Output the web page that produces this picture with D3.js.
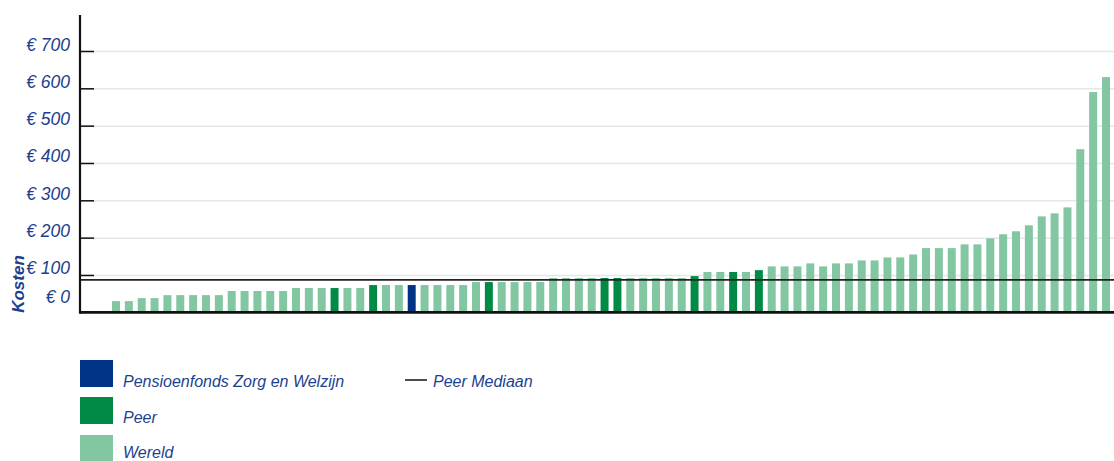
<!DOCTYPE html>
<html>
<head>
<meta charset="utf-8">
<script src="https://cdn.jsdelivr.net/npm/d3@7/dist/d3.min.js"></script>
<style>
  html, body { margin: 0; padding: 0; background: #fff; }
  svg { display: block; font-family: "Liberation Sans", Arial, sans-serif; font-style: italic; }
</style>
</head>
<body>
<svg id="chart" width="1114" height="461"></svg>
<script>
// ---- data ----
const values = [
  30, 30, 38, 38, 46, 46, 46, 46, 46,
  57, 57, 57, 57, 57,
  65, 65, 65, 65, 65, 65,
  73, 73, 73, 73, 73, 73, 73, 73,
  81, 81, 81, 81, 81, 81,
  92, 92, 92, 92, 92, 92, 92, 92, 92, 92, 92,
  97, 108, 108, 108, 108, 113,
  123, 123, 123, 131, 123, 131, 131,
  139, 139, 147, 147, 155,
  172, 172, 172, 182, 182,
  198, 209, 217, 233, 257, 265, 281,
  437, 590, 630
];
// group per bar: W = Wereld, P = Peer, F = Pensioenfonds Zorg en Welzijn
const peerIdx = [17, 20, 29, 38, 39, 45, 48, 50];
const fundIdx = 23;
const groups = values.map((v, i) => i === fundIdx ? "F" : (peerIdx.includes(i) ? "P" : "W"));
const categories = values.map((v, i) => "Fonds " + (i + 1));
const yTicks = [0, 100, 200, 300, 400, 500, 600, 700];
const yTickLabels = ["€ 0", "€ 100", "€ 200", "€ 300", "€ 400", "€ 500", "€ 600", "€ 700"];
const peerMedian = 87;
const legendItems = ["Pensioenfonds Zorg en Welzijn", "Peer", "Wereld"];
const legendKeys = ["F", "P", "W"];
const medianLabel = "Peer Mediaan";
const yTitle = "Kosten";

// ---- styles ----
const colors = { F: "#003383", P: "#008a46", W: "#82c6a2" };
const textColor = "#1d3f8f";

const svg = d3.select("#chart");
const axisX = 80, baseY = 312.3, topY = 15, rightX = 1114;

const y = d3.scaleLinear().domain([0, 700]).range([baseY, 51]);
const x = d3.scaleBand().domain(categories).range([112, 1110]).paddingInner(0.38).paddingOuter(0);

// gridlines
const grid = svg.append("g").attr("transform", `translate(${axisX},0)`)
  .call(d3.axisLeft(y).tickValues(yTicks.slice(1)).tickSize(-(rightX - axisX)).tickFormat(""));
grid.select(".domain").remove();
grid.selectAll("line").attr("stroke", "#e6e6e6").attr("stroke-width", 1.5);

// bars
svg.append("g").selectAll("rect").data(values).join("rect")
  .attr("x", (d, i) => x(categories[i]))
  .attr("width", x.bandwidth())
  .attr("y", d => y(d))
  .attr("height", d => baseY - y(d))
  .attr("fill", (d, i) => colors[groups[i]]);

// y axis ticks + labels
const yAxis = svg.append("g").attr("transform", `translate(${axisX},0)`)
  .call(d3.axisLeft(y).tickValues(yTicks).tickSizeInner(-14).tickSizeOuter(0).tickPadding(10)
    .tickFormat((d, i) => yTickLabels[i]));
yAxis.select(".domain").remove();
yAxis.selectAll(".tick line").attr("stroke", "#111").attr("stroke-width", 1.5)
  .filter(d => d === 0).remove();
yAxis.selectAll(".tick text")
  .attr("fill", textColor).attr("font-size", 17.5).attr("font-style", "italic")
  .attr("font-family", "'Liberation Sans', Arial, sans-serif")
  .attr("dy", d => d === 0 ? -10 : -1);

// median line
svg.append("line").attr("x1", axisX).attr("x2", rightX)
  .attr("y1", y(peerMedian)).attr("y2", y(peerMedian))
  .attr("stroke", "#222").attr("stroke-width", 1.8);

// axis lines
svg.append("line").attr("x1", axisX).attr("x2", axisX).attr("y1", topY).attr("y2", baseY + 1.5)
  .attr("stroke", "#111").attr("stroke-width", 2.2);
svg.append("line").attr("x1", axisX).attr("x2", rightX).attr("y1", baseY).attr("y2", baseY)
  .attr("stroke", "#111").attr("stroke-width", 2.8);

// y title
svg.append("text").attr("transform", `translate(24,284) rotate(-90)`)
  .attr("text-anchor", "middle").attr("fill", textColor)
  .attr("font-weight", "bold").attr("font-size", 17).attr("font-style", "italic")
  .text(yTitle);

// legend
const lg = svg.append("g");
const legendRectTops = [360, 397, 435];
const legendTextY = [387, 423, 458];
legendItems.forEach((name, i) => {
  lg.append("rect").attr("x", 80).attr("y", legendRectTops[i]).attr("width", 33).attr("height", 27)
    .attr("fill", colors[legendKeys[i]]);
  lg.append("text").attr("x", 123).attr("y", legendTextY[i]).attr("fill", textColor)
    .attr("font-size", 16).text(name);
});
lg.append("line").attr("x1", 405).attr("x2", 427).attr("y1", 380).attr("y2", 380)
  .attr("stroke", "#111").attr("stroke-width", 1.5);
lg.append("text").attr("x", 433).attr("y", 387).attr("fill", textColor)
  .attr("font-size", 16).text(medianLabel);
</script>
</body>
</html>
